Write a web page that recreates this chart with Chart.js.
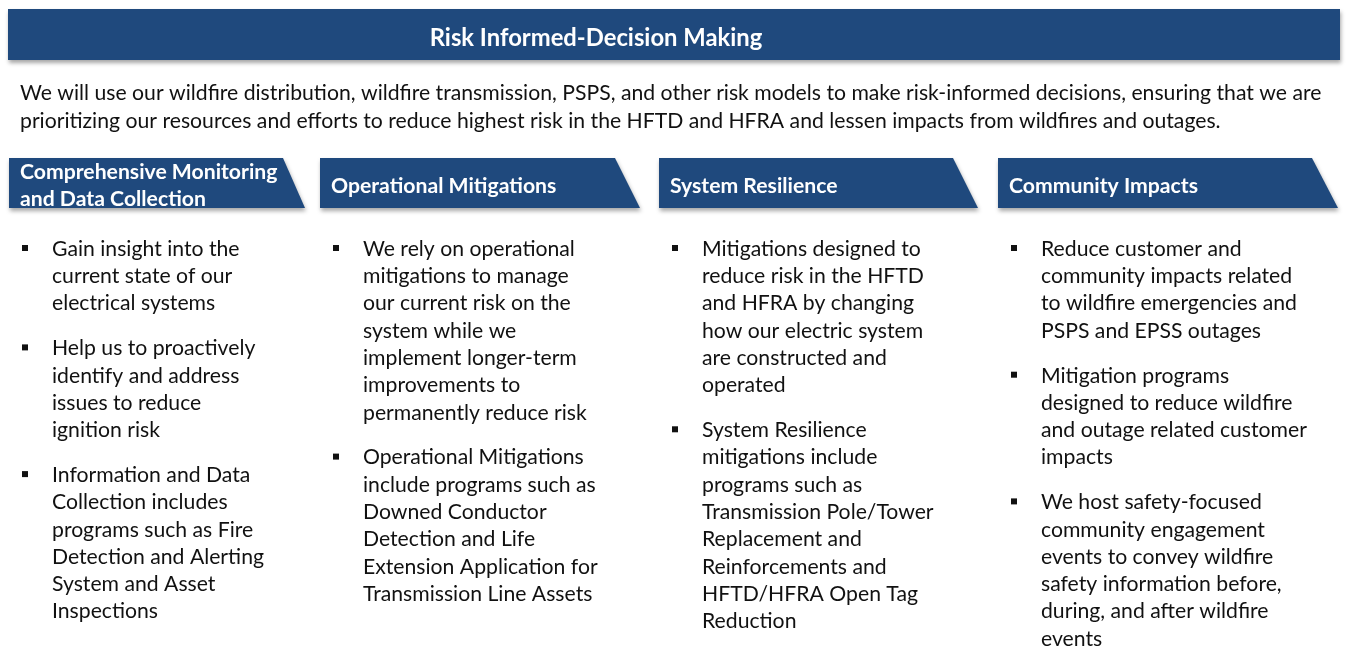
<!DOCTYPE html>
<html>
<head>
<meta charset="utf-8">
<script src="https://cdn.jsdelivr.net/npm/chart.js@4.4.0/dist/chart.umd.min.js"></script>
<style>
  html, body { margin: 0; padding: 0; background: #fff; }
  #board { display: block; }
</style>
</head>
<body>
<canvas id="board" width="1346" height="650"></canvas>
<script>
// Risk Informed-Decision Making summary board
// text content, one array per block

var title = 'Risk Informed-Decision Making';

var introLines = [
    'We will use our wildfire distribution, wildfire transmission, PSPS, and other risk models to make risk-informed decisions, ensuring that we are',
    'prioritizing our resources and efforts to reduce highest risk in the HFTD and HFRA and lessen impacts from wildfires and outages.'
];

var headers = [
    ['Comprehensive Monitoring', 'and Data Collection'],
    ['Operational Mitigations'],
    ['System Resilience'],
    ['Community Impacts']
];

var monitoringBullets = [
    ['Gain insight into the', 'current state of our', 'electrical systems'],
    ['Help us to proactively', 'identify and address', 'issues to reduce', 'ignition risk'],
    ['Information and Data', 'Collection includes', 'programs such as Fire', 'Detection and Alerting', 'System and Asset', 'Inspections']
];

var operationalBullets = [
    ['We rely on operational', 'mitigations to manage', 'our current risk on the', 'system while we', 'implement longer-term', 'improvements to', 'permanently reduce risk'],
    ['Operational Mitigations', 'include programs such as', 'Downed Conductor', 'Detection and Life', 'Extension Application for', 'Transmission Line Assets']
];

var resilienceBullets = [
    ['Mitigations designed to', 'reduce risk in the HFTD', 'and HFRA by changing', 'how our electric system', 'are constructed and', 'operated'],
    ['System Resilience', 'mitigations include', 'programs such as', 'Transmission Pole/Tower', 'Replacement and', 'Reinforcements and', 'HFTD/HFRA Open Tag', 'Reduction']
];

var communityBullets = [
    ['Reduce customer and', 'community impacts related', 'to wildfire emergencies and', 'PSPS and EPSS outages'],
    ['Mitigation programs', 'designed to reduce wildfire', 'and outage related customer', 'impacts'],
    ['We host safety-focused', 'community engagement', 'events to convey wildfire', 'safety information before,', 'during, and after wildfire', 'events']
];

var columns = [monitoringBullets, operationalBullets, resilienceBullets, communityBullets];

// layout
var BLUE = '#1f497d';
var FONT = 'Lato, "Open Sans", sans-serif';
var colLeft = [9, 320, 659, 998];
var colTopRight = [283, 615, 953, 1312];
var colBotRight = [305, 640, 978, 1338];
var lineH = 27.3;
var paraGap = 17.5;

function withShadow(ctx, fn) {
    ctx.save();
    ctx.shadowColor = 'rgba(0,0,0,0.35)';
    ctx.shadowBlur = 4;
    ctx.shadowOffsetX = 1;
    ctx.shadowOffsetY = 3;
    fn();
    ctx.restore();
}

var boardPlugin = {
    id: 'board',
    afterDraw: function(chart) {
        var ctx = chart.ctx;
        var sx = chart.scales.x, sy = chart.scales.y;
        var X = function(v) { return sx.getPixelForValue(v); };
        var Y = function(v) { return sy.getPixelForValue(v); };

        ctx.save();
        ctx.textBaseline = 'middle';

        // title banner
        withShadow(ctx, function() {
            ctx.fillStyle = BLUE;
            ctx.fillRect(X(8), Y(9), X(1340) - X(8), Y(60) - Y(9));
        });
        ctx.fillStyle = '#fff';
        ctx.font = 'bold 23.8px ' + FONT;
        ctx.textAlign = 'center';
        ctx.fillText(title, X(596), Y(38));

        // intro paragraph
        ctx.textAlign = 'left';
        ctx.fillStyle = '#111';
        ctx.font = '21.2px ' + FONT;
        introLines.forEach(function(line, i) {
            ctx.fillText(line, X(20), Y(93 + i * 28));
        });

        // column headers
        headers.forEach(function(lines, c) {
            withShadow(ctx, function() {
                ctx.fillStyle = BLUE;
                ctx.beginPath();
                ctx.moveTo(X(colLeft[c]), Y(158));
                ctx.lineTo(X(colTopRight[c]), Y(158));
                ctx.lineTo(X(colBotRight[c]), Y(208));
                ctx.lineTo(X(colLeft[c]), Y(208));
                ctx.closePath();
                ctx.fill();
            });
            ctx.fillStyle = '#fff';
            ctx.font = 'bold 21.2px ' + FONT;
            var y0 = lines.length > 1 ? 172 : 186;
            lines.forEach(function(line, i) {
                ctx.fillText(line, X(colLeft[c] + 11), Y(y0 + i * 27));
            });
        });

        // bullets
        ctx.font = '21.2px ' + FONT;
        columns.forEach(function(paras, c) {
            var y = 249;
            paras.forEach(function(lines) {
                ctx.fillStyle = '#111';
                ctx.fillRect(X(colLeft[c] + 13), Y(y - 4), 6, 6);
                lines.forEach(function(line) {
                    ctx.fillText(line, X(colLeft[c] + 43), Y(y));
                    y += lineH;
                });
                y += paraGap;
            });
        });

        ctx.restore();
    }
};

new Chart(document.getElementById('board').getContext('2d'), {
    type: 'scatter',
    data: { datasets: [] },
    options: {
        responsive: false,
        animation: false,
        events: [],
        layout: { padding: 0 },
        plugins: { legend: { display: false }, tooltip: { enabled: false } },
        scales: {
            x: { type: 'linear', min: 0, max: 1346, display: false },
            y: { type: 'linear', min: 0, max: 650, reverse: true, display: false }
        }
    },
    plugins: [boardPlugin]
});
</script>
</body>
</html>
